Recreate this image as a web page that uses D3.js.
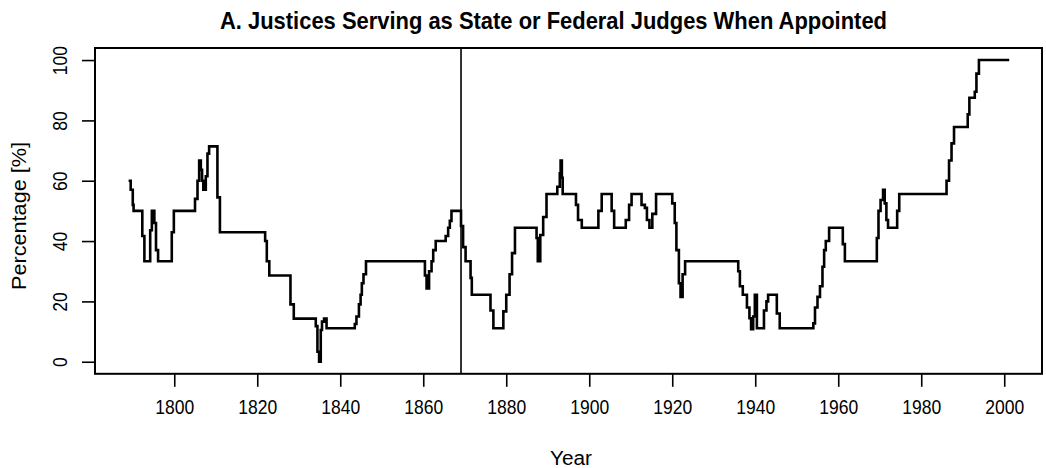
<!DOCTYPE html>
<html>
<head>
<meta charset="utf-8">
<script src="https://cdn.jsdelivr.net/npm/d3@7"></script>
<style>
  body { margin: 0; background: #fff; }
  text { font-family: "Liberation Sans Narrow", "Arial Narrow", "Liberation Sans", Arial, sans-serif; fill: #000; }
</style>
</head>
<body>
<script>
// step series: year where a level starts, and the level (%)
const years = [
  1789.0, 1789.5, 1790.0, 1790.2, 1792.3, 1792.8, 1794.2, 1794.6, 1795.2, 1795.6, 1796.1,
  1799.4, 1799.9, 1805.0, 1805.6, 1806.0, 1806.4, 1806.7, 1807.0, 1807.6, 1808.0, 1808.4,
  1810.4, 1811.0, 1821.9, 1822.3, 1822.9, 1828.0, 1828.8, 1834.1, 1834.5, 1834.9, 1835.3,
  1835.6, 1836.1, 1836.7, 1843.5, 1843.9, 1844.5, 1844.9, 1845.2, 1845.6, 1846.2, 1860.4,
  1860.8, 1861.4, 1862.0, 1862.4, 1863.0, 1865.4, 1866.0, 1866.4, 1866.8, 1869.1, 1869.6,
  1870.2, 1871.4, 1871.7, 1876.2, 1876.9, 1879.3, 1880.0, 1880.8, 1881.4, 1882.1, 1887.3,
  1887.6, 1888.2, 1888.9, 1889.7, 1892.3, 1892.9, 1893.1, 1893.4, 1893.6, 1896.8, 1897.3,
  1898.2, 1902.2, 1903.0, 1905.4, 1906.0, 1908.8, 1909.6, 1910.2, 1912.6, 1913.4, 1913.9,
  1914.5, 1915.2, 1916.1, 1920.0, 1920.6, 1921.0, 1921.6, 1922.0, 1922.5, 1923.1, 1935.9,
  1936.3, 1937.0, 1938.0, 1938.6, 1939.0, 1939.5, 1939.9, 1940.4, 1942.1, 1942.7, 1943.1,
  1945.2, 1945.9, 1954.0, 1954.4, 1955.0, 1955.6, 1956.2, 1956.6, 1957.0, 1957.8, 1961.1,
  1961.6, 1969.3, 1969.7, 1970.2, 1970.8, 1971.2, 1971.6, 1972.0, 1974.2, 1974.7, 1986.1,
  1986.7, 1987.3, 1987.9, 1991.2, 1991.6, 1992.9, 1993.3, 1993.9, 2001.2
];
const percents = [
  60, 57, 52, 50, 41.7, 33.3, 43.6, 50, 46, 37, 33.3,
  42.9, 50, 54, 60, 66.7, 63.6, 60, 57, 61.5, 69, 71.4,
  54.5, 42.9, 40, 33.3, 28.6, 19, 14.3, 11.8, 3.3, 0, 10.5,
  13.3, 14.3, 11.1, 12.5, 15, 19, 22.2, 26, 29, 33.3, 28.6,
  24.3, 30, 33.3, 37, 40, 41.7, 44.4, 46.7, 50, 45, 38,
  33.3, 27.8, 22.2, 17, 11.1, 16.7, 22.2, 29, 36, 44.4, 41,
  33.3, 42, 48, 55.6, 58, 62.5, 66.7, 61, 55.6, 52, 47,
  44.4, 50, 55.6, 50, 44.4, 47, 52, 55.6, 52, 51, 47,
  44.4, 49, 55.6, 52.5, 46, 37, 26, 21.5, 29, 33.3, 30,
  25, 22.2, 18, 14.4, 10.8, 15, 22.2, 11.1, 17, 20, 22.2,
  16, 11.1, 12.7, 18, 21.5, 25, 31.5, 37, 40, 44.4, 39,
  33.3, 41, 50, 53.6, 57, 52.5, 47, 44.4, 50, 55.6, 60,
  66.7, 72.4, 77.8, 82, 87.5, 89.5, 95.5, 100, 100
];
const xTicks = [1800, 1820, 1840, 1860, 1880, 1900, 1920, 1940, 1960, 1980, 2000];
const yTicks = [0, 20, 40, 60, 80, 100];
const markerYear = 1869.1;

const TITLE = 'A. Justices Serving as State or Federal Judges When Appointed';
const X_LABEL = 'Year';
const Y_LABEL = 'Percentage [%]';

const width = 1046;
const height = 468;
const plot = { left: 95, right: 1042, top: 48, bottom: 373.8 };
const DIGIT_W = 9.75; // squeezed digit width, mimics the narrow face of the original

const svg = d3.select('body')
  .append('svg')
  .attr('width', width)
  .attr('height', height);

const x = d3.scaleLinear().domain([1780.9, 2009.1]).range([plot.left, plot.right]);
const y = d3.scaleLinear().domain([-4, 104]).range([plot.bottom, plot.top]);

// axes
const xAxis = svg.append('g')
  .attr('transform', `translate(0,${plot.bottom})`)
  .call(d3.axisBottom(x).tickValues(xTicks).tickSize(13).tickPadding(13).tickFormat(d3.format('d')));

const yAxis = svg.append('g')
  .attr('transform', `translate(${plot.left},0)`)
  .call(d3.axisLeft(y).tickValues(yTicks).tickSize(13).tickFormat(d3.format('d')));

[xAxis, yAxis].forEach(g => {
  g.select('.domain').remove();
  g.selectAll('line').attr('stroke', '#000').attr('stroke-width', 1.6);
  g.selectAll('text')
    .attr('font-size', 20)
    .attr('fill', '#000')
    .attr('textLength', d => String(d).length * DIGIT_W)
    .attr('lengthAdjust', 'spacingAndGlyphs');
});

yAxis.selectAll('.tick text')
  .attr('x', null).attr('dy', null)
  .attr('text-anchor', 'middle')
  .attr('transform', 'translate(-28,0) rotate(-90)');

// plot box
svg.append('rect')
  .attr('x', plot.left)
  .attr('y', plot.top)
  .attr('width', plot.right - plot.left)
  .attr('height', plot.bottom - plot.top)
  .attr('fill', 'none')
  .attr('stroke', '#000')
  .attr('stroke-width', 2);

// vertical marker
svg.append('line')
  .attr('x1', x(markerYear)).attr('x2', x(markerYear))
  .attr('y1', plot.top).attr('y2', plot.bottom)
  .attr('stroke', '#000')
  .attr('stroke-width', 1.6);

// step line
const line = d3.line()
  .x(d => x(d[0]))
  .y(d => y(d[1]))
  .curve(d3.curveStepAfter);

svg.append('path')
  .datum(d3.zip(years, percents))
  .attr('d', line)
  .attr('fill', 'none')
  .attr('stroke', '#000')
  .attr('stroke-width', 2.6);

// titles
svg.append('text')
  .attr('x', 220)
  .attr('y', 29)
  .attr('font-size', 24)
  .attr('font-weight', 'bold')
  .attr('textLength', 667)
  .attr('lengthAdjust', 'spacingAndGlyphs')
  .text(TITLE);

svg.append('text')
  .attr('x', 571)
  .attr('y', 465)
  .attr('text-anchor', 'middle')
  .attr('font-size', 20)
  .attr('textLength', 42)
  .attr('lengthAdjust', 'spacingAndGlyphs')
  .text(X_LABEL);

svg.append('text')
  .attr('transform', `translate(26,216) rotate(-90)`)
  .attr('text-anchor', 'middle')
  .attr('font-size', 20)
  .attr('textLength', 148)
  .attr('lengthAdjust', 'spacingAndGlyphs')
  .text(Y_LABEL);
</script>
</body>
</html>
